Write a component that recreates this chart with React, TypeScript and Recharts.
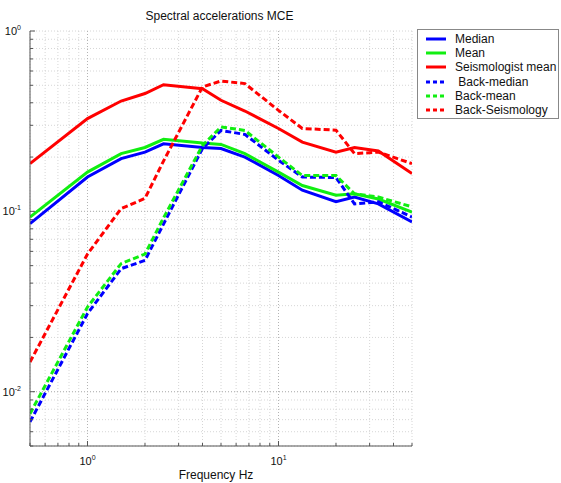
import React from 'react';
import { LineChart, Line, XAxis, YAxis, CartesianGrid, ReferenceLine } from 'recharts';

// Frequencies (Hz) and spectral accelerations
const freqs = [0.5, 1, 1.5, 2, 2.5, 4, 5, 6.67, 10, 13.33, 20, 25, 33.33, 50];
const median = [0.0855, 0.155, 0.196, 0.213, 0.237, 0.226, 0.223, 0.2, 0.158, 0.131, 0.113, 0.12, 0.11, 0.0873];
const mean = [0.093, 0.165, 0.209, 0.226, 0.251, 0.239, 0.235, 0.209, 0.165, 0.139, 0.123, 0.125, 0.117, 0.099];
const seismologistMean = [0.184, 0.327, 0.409, 0.45, 0.504, 0.479, 0.413, 0.36, 0.288, 0.242, 0.213, 0.226, 0.216, 0.162];
const backMedian = [0.0068, 0.0271, 0.0481, 0.0535, 0.085, 0.223, 0.281, 0.267, 0.192, 0.155, 0.154, 0.11, 0.113, 0.093];
const backMean = [0.00755, 0.0295, 0.0513, 0.058, 0.092, 0.232, 0.294, 0.281, 0.2, 0.158, 0.158, 0.125, 0.12, 0.106];
const backSeismology = [0.0146, 0.058, 0.1035, 0.118, 0.19, 0.49, 0.528, 0.511, 0.363, 0.288, 0.282, 0.209, 0.213, 0.184];

// grid / tick positions
const xTicks = [0.5, 0.6, 0.7, 0.8, 0.9, 1, 2, 3, 4, 5, 6, 7, 8, 9, 10, 20, 30, 40, 50];
const yTicks = [
    0.005, 0.006, 0.007, 0.008, 0.009,
    0.01, 0.02, 0.03, 0.04, 0.05, 0.06, 0.07, 0.08, 0.09,
    0.1, 0.2, 0.3, 0.4, 0.5, 0.6, 0.7, 0.8, 0.9, 1,
];
const xMajor = [1, 10];
const yMajor = [0.01, 0.1];

const series = [
    { key: 'median', name: 'Median', color: '#0000ff', dashed: false },
    { key: 'mean', name: 'Mean', color: '#11ee11', dashed: false },
    { key: 'seis', name: 'Seismologist mean', color: '#ff0000', dashed: false },
    { key: 'bmedian', name: ' Back-median', color: '#0000ff', dashed: true },
    { key: 'bmean', name: 'Back-mean', color: '#11ee11', dashed: true },
    { key: 'bseis', name: 'Back-Seismology', color: '#ff0000', dashed: true },
];

const data = freqs.map((f, i) => ({
    f,
    median: median[i],
    mean: mean[i],
    seis: seismologistMean[i],
    bmedian: backMedian[i],
    bmean: backMean[i],
    bseis: backSeismology[i],
}));

const FONT = "Arial, 'Liberation Sans', Helvetica, sans-serif";
const AXIS = '#555';

const decade = (v: number) => {
    const e = Math.round(Math.log10(v));
    return { e, major: Math.abs(Math.log10(v) - e) < 1e-6 };
};

const BottomTick = ({ x, y, payload }: any) => {
    const { e, major } = decade(payload.value);
    return (
        <g>
            <line x1={x} x2={x} y1={y} y2={y - (major ? 5 : 3)} stroke={AXIS} />
            {major && (
                <text x={x} y={y + 19} textAnchor="middle" fontSize={11} fontFamily={FONT} fill="#111">
                    10<tspan dy={-5} fontSize={7}>{e}</tspan>
                </text>
            )}
        </g>
    );
};

const TopTick = ({ x, y }: any) => <line x1={x} x2={x} y1={y} y2={y + 3} stroke={AXIS} />;

const LeftTick = ({ x, y, payload }: any) => {
    const { e, major } = decade(payload.value);
    return (
        <g>
            <line x1={x} x2={x + (major ? 5 : 3)} y1={y} y2={y} stroke={AXIS} />
            {major && (
                <text x={x - 9} y={y + 4} textAnchor="end" fontSize={11} fontFamily={FONT} fill="#111">
                    10<tspan dy={-5} fontSize={7}>{e}</tspan>
                </text>
            )}
        </g>
    );
};

const RightTick = ({ x, y }: any) => <line x1={x} x2={x - 3} y1={y} y2={y} stroke={AXIS} />;

function LegendBox() {
    return (
        <div style={{
            position: 'absolute', left: 417, top: 29, width: 140, height: 88,
            border: '1px solid #888', background: '#fff', fontFamily: FONT, fontSize: 12,
        }}>
            {series.map((s, i) => (
                <div key={s.key} style={{ position: 'absolute', left: 0, top: 2 + i * 14.2, height: 14, width: 140 }}>
                    <svg width={24} height={14} style={{ position: 'absolute', left: 7, top: 0 }}>
                        <line x1={1} x2={21} y1={7} y2={7} stroke={s.color} strokeWidth={3}
                            strokeDasharray={s.dashed ? '4 3' : undefined} />
                    </svg>
                    <span style={{ position: 'absolute', left: 37, top: 0, lineHeight: '14px', whiteSpace: 'pre', color: '#111' }}>
                        {s.name}
                    </span>
                </div>
            ))}
        </div>
    );
}

export default function App() {
    return (
        <div style={{ position: 'relative', width: 561, height: 483, background: '#fff' }}>
            <style>{'body{margin:0}'}</style>
            <div style={{
                position: 'absolute', left: 0, top: 9, width: 439, textAlign: 'center',
                fontFamily: FONT, fontSize: 12, lineHeight: '14px', color: '#111',
            }}>
                Spectral accelerations MCE
            </div>

            <LineChart width={561} height={483} data={data}
                margin={{ top: 31, right: 149, bottom: 0, left: 0 }}>
                <CartesianGrid stroke="#d6d6d6" strokeDasharray="1 2" />
                {xMajor.map(v => (
                    <ReferenceLine key={`x${v}`} x={v} stroke="#b4b4b4" strokeDasharray="1 2" />
                ))}
                {yMajor.map(v => (
                    <ReferenceLine key={`y${v}`} y={v} stroke="#b4b4b4" strokeDasharray="1 2" />
                ))}
                <XAxis dataKey="f" type="number" scale="log" domain={[0.5, 50]} allowDataOverflow
                    ticks={xTicks} interval={0} height={37} tickSize={0} tickMargin={0}
                    tickLine={false} axisLine={{ stroke: AXIS }} tick={<BottomTick />} />
                <XAxis xAxisId="top" orientation="top" dataKey="f" type="number" scale="log"
                    domain={[0.5, 50]} allowDataOverflow ticks={xTicks} interval={0} height={0}
                    tickSize={0} tickMargin={0} tickLine={false} axisLine={{ stroke: AXIS }} tick={<TopTick />} />
                <YAxis type="number" scale="log" domain={[0.005, 1]} allowDataOverflow
                    ticks={yTicks} interval={0} width={30} tickSize={0} tickMargin={0}
                    tickLine={false} axisLine={{ stroke: AXIS }} tick={<LeftTick />} />
                <YAxis yAxisId="right" orientation="right" type="number" scale="log" domain={[0.005, 1]}
                    allowDataOverflow ticks={yTicks} interval={0} width={0} tickSize={0} tickMargin={0}
                    tickLine={false} axisLine={{ stroke: AXIS }} tick={<RightTick />} />
                {series.map(s => (
                    <Line key={s.key} dataKey={s.key} name={s.name} type="linear"
                        stroke={s.color} strokeWidth={3} dot={false}
                        strokeDasharray={s.dashed ? '6 3' : undefined}
                        isAnimationActive={false} />
                ))}
            </LineChart>

            <div style={{
                position: 'absolute', left: 0, top: 468, width: 432, textAlign: 'center',
                fontFamily: FONT, fontSize: 12, lineHeight: '14px', color: '#111',
            }}>
                Frequency Hz
            </div>

            <LegendBox />
        </div>
    );
}
